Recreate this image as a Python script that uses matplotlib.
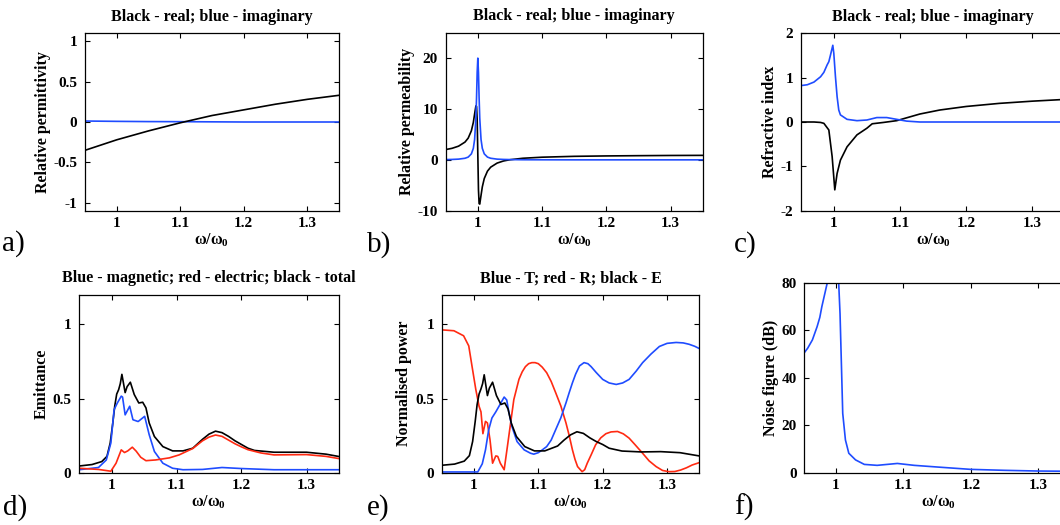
import matplotlib
matplotlib.use("Agg")
import matplotlib.pyplot as plt
from matplotlib.ticker import FormatStrFormatter

plt.rcParams['font.family'] = ['Liberation Serif', 'DejaVu Serif']
plt.rcParams['font.weight'] = 'bold'
plt.rcParams['axes.unicode_minus'] = False
plt.rcParams['mathtext.fontset'] = 'custom'
plt.rcParams['mathtext.rm'] = 'Liberation Serif:bold'
plt.rcParams['mathtext.it'] = 'Liberation Serif:bold'
plt.rcParams['mathtext.bf'] = 'Liberation Serif:bold'

BLUE = '#1f4cff'
RED = '#ff2a12'
BLACK = '#000000'

# ---------------- data ----------------
# a) relative permittivity
a_x = [0.95, 1.0, 1.05, 1.1, 1.15, 1.2, 1.25, 1.3, 1.35]
eps_re = [-0.35, -0.22, -0.11, -0.01, 0.08, 0.15, 0.22, 0.28, 0.33]
eps_im = [0.012, 0.008, 0.005, 0.004, 0.002, 0.0, 0.0, 0.0, 0.0]

# b) relative permeability
b_x = [0.95, 0.96, 0.97, 0.98, 0.985, 0.99, 0.993, 0.995, 0.997, 0.998, 0.999,
       1.0, 1.001, 1.002, 1.003, 1.005, 1.007, 1.01, 1.015, 1.02, 1.03, 1.04,
       1.05, 1.07, 1.1, 1.15, 1.2, 1.25, 1.3, 1.35]
mu_re = [2.02, 2.27, 2.69, 3.49, 4.27, 5.73, 7.36, 9.03, 10.6, 10.5, 7.9,
         1.0, -5.89, -8.6, -8.7, -6.97, -5.31, -3.68, -2.22, -1.44, -0.64, -0.22,
         0.02, 0.31, 0.52, 0.69, 0.77, 0.82, 0.86, 0.88]
mu_im = [0.05, 0.08, 0.14, 0.31, 0.54, 1.18, 2.26, 4.0, 8.2, 12.2, 17.25,
         20.0, 17.2, 12.2, 8.19, 4.0, 2.26, 1.18, 0.54, 0.31, 0.14, 0.08,
         0.05, 0.02, 0.01, 0.0, 0.0, 0.0, 0.0, 0.0]

# c) refractive index
c_x_re = [0.95, 0.97, 0.98, 0.985, 0.9925, 0.9975, 1.0015, 1.005, 1.01, 1.02, 1.035,
          1.05, 1.058, 1.075, 1.095, 1.116, 1.13, 1.16, 1.2, 1.25, 1.3, 1.35]
n_re = [0.0, 0.0, -0.01, -0.03, -0.18, -0.78, -1.53, -1.16, -0.86, -0.56, -0.29,
        -0.14, -0.04, -0.01, 0.03, 0.12, 0.18, 0.27, 0.35, 0.42, 0.47, 0.51]
c_x_im = [0.95, 0.96, 0.97, 0.98, 0.985, 0.99, 0.9925, 0.995, 0.9985, 1.0, 1.0025, 1.005,
          1.0075, 1.01, 1.02, 1.035, 1.05, 1.065, 1.08, 1.095, 1.11, 1.13, 1.35]
n_im = [0.82, 0.84, 0.9, 1.02, 1.12, 1.29, 1.36, 1.51, 1.73, 1.55, 1.02, 0.57,
        0.27, 0.16, 0.06, 0.03, 0.045, 0.1, 0.1, 0.06, 0.02, 0.0, 0.0]

# d) emittance
d_x_tot = [0.95, 0.97, 0.985, 0.993, 0.998, 1.002, 1.005, 1.008, 1.011, 1.0135, 1.016,
           1.021, 1.024, 1.029, 1.035, 1.042, 1.048, 1.053, 1.058, 1.066, 1.079,
           1.094, 1.11, 1.125, 1.14, 1.15, 1.16, 1.17, 1.18, 1.19, 1.2, 1.21, 1.22,
           1.25, 1.3, 1.33, 1.35]
d_tot = [0.045, 0.055, 0.075, 0.11, 0.2, 0.335, 0.45, 0.53, 0.56, 0.6, 0.663,
         0.54, 0.58, 0.61, 0.527, 0.47, 0.475, 0.437, 0.335, 0.244, 0.176,
         0.147, 0.147, 0.165, 0.225, 0.26, 0.28, 0.27, 0.245, 0.215, 0.19, 0.165, 0.15,
         0.138, 0.138, 0.125, 0.109]
d_x_mag = [0.95, 0.98, 0.992, 0.999, 1.004, 1.009, 1.015, 1.017, 1.021, 1.028,
           1.033, 1.041, 1.051, 1.058, 1.066, 1.079, 1.094, 1.11, 1.14, 1.17,
           1.2, 1.25, 1.35]
d_mag = [0.02, 0.035, 0.086, 0.2, 0.425, 0.47, 0.516, 0.51, 0.39, 0.448,
         0.357, 0.345, 0.38, 0.256, 0.143, 0.064, 0.03, 0.02, 0.022, 0.035,
         0.028, 0.02, 0.02]
d_x_ele = [0.95, 0.98, 0.999, 1.007, 1.015, 1.02, 1.025, 1.032, 1.038, 1.045,
           1.053, 1.068, 1.089, 1.104, 1.125, 1.14, 1.15, 1.16, 1.17, 1.18, 1.19,
           1.2, 1.21, 1.23, 1.25, 1.3, 1.33, 1.35]
d_ele = [0.03, 0.022, 0.01, 0.064, 0.154, 0.136, 0.147, 0.172, 0.145, 0.104,
         0.081, 0.086, 0.1, 0.12, 0.163, 0.215, 0.24, 0.254, 0.245, 0.22, 0.195,
         0.174, 0.155, 0.133, 0.12, 0.122, 0.11, 0.095]

# e) normalised power
e_x_R = [0.95, 0.969, 0.984, 0.992, 0.997, 1.003, 1.008, 1.011, 1.014, 1.018,
         1.021, 1.025, 1.029, 1.034, 1.037, 1.041, 1.047, 1.052, 1.057, 1.062,
         1.07, 1.075, 1.08, 1.085, 1.09, 1.095, 1.1, 1.106, 1.113, 1.12, 1.127,
         1.135, 1.143, 1.148, 1.153, 1.157, 1.161, 1.168, 1.172, 1.176, 1.182,
         1.189, 1.197, 1.205, 1.213, 1.223, 1.232, 1.241, 1.25, 1.262, 1.272,
         1.283, 1.293, 1.303, 1.312, 1.321, 1.33, 1.339, 1.35]
e_R = [0.963, 0.957, 0.923, 0.855, 0.72, 0.56, 0.448, 0.41, 0.263, 0.346,
       0.335, 0.222, 0.064, 0.113, 0.11, 0.064, 0.02, 0.176, 0.335, 0.493,
       0.63, 0.68, 0.715, 0.735, 0.742, 0.742, 0.735, 0.712, 0.674, 0.615, 0.539,
       0.45, 0.335, 0.25, 0.154, 0.09, 0.041, 0.007, 0.02, 0.064, 0.12,
       0.188, 0.235, 0.263, 0.275, 0.278, 0.262, 0.233, 0.19, 0.131, 0.08,
       0.041, 0.015, 0.007, 0.008, 0.018, 0.033, 0.052, 0.068]
e_x_T = [0.95, 1.006, 1.013, 1.018, 1.023, 1.028, 1.034, 1.039, 1.047, 1.051,
         1.054, 1.059, 1.067, 1.078, 1.088, 1.093, 1.1, 1.105, 1.113, 1.12, 1.127,
         1.135, 1.143, 1.148, 1.153, 1.158, 1.164, 1.171, 1.177, 1.182, 1.19, 1.2,
         1.21, 1.221, 1.231, 1.241, 1.252, 1.262, 1.275, 1.288, 1.3, 1.314, 1.325,
         1.334, 1.343, 1.35]
e_T = [0.005, 0.005, 0.06, 0.154, 0.29, 0.369, 0.41, 0.448, 0.51, 0.49,
       0.414, 0.312, 0.21, 0.154, 0.131, 0.125, 0.135, 0.15, 0.176, 0.22, 0.29,
       0.37, 0.471, 0.54, 0.606, 0.665, 0.72, 0.742, 0.735, 0.715, 0.675, 0.629,
       0.605, 0.595, 0.605, 0.629, 0.685, 0.742, 0.8, 0.851, 0.872, 0.878, 0.875,
       0.866, 0.852, 0.837]
e_x_E = [0.95, 0.97, 0.985, 0.993, 0.998, 1.002, 1.005, 1.008, 1.011, 1.0135,
         1.016, 1.021, 1.024, 1.029, 1.035, 1.042, 1.048, 1.053, 1.058, 1.066,
         1.079, 1.094, 1.11, 1.13, 1.14, 1.15, 1.16, 1.17, 1.18, 1.19, 1.2, 1.21,
         1.23, 1.26, 1.29, 1.32, 1.35]
e_E = [0.05, 0.058, 0.078, 0.115, 0.21, 0.345, 0.46, 0.53, 0.565, 0.6,
       0.66, 0.52, 0.57, 0.61, 0.52, 0.46, 0.47, 0.43, 0.335, 0.244,
       0.176, 0.147, 0.147, 0.18, 0.22, 0.255, 0.276, 0.265, 0.235, 0.21, 0.19, 0.165,
       0.146, 0.14, 0.142, 0.135, 0.113]

# f) noise figure
f_x = [0.953, 0.958, 0.965, 0.972, 0.976, 0.979, 0.983, 0.987, 0.992, 0.997,
       1.001, 1.004, 1.006, 1.008, 1.01, 1.014, 1.019, 1.029, 1.042, 1.061,
       1.091, 1.116, 1.15, 1.2, 1.25, 1.3, 1.35]
f_nf = [50.6, 52.5, 56.0, 61.6, 65.5, 70.0, 75.0, 80.0, 95.0, 120.0,
        110.0, 80.0, 67.0, 46.0, 25.0, 13.8, 8.2, 5.4, 3.5, 3.1,
        3.9, 3.1, 2.4, 1.4, 1.0, 0.7, 0.6]

x_ticks = [1, 1.1, 1.2, 1.3]
xlabel = 'ω/ω$_0$'

# ---------------- figure ----------------
W, H = 1060, 525
fig = plt.figure(figsize=(W / 100, H / 100), dpi=100)


def add_ax(left, right, top, bottom):
    return fig.add_axes([left / W, 1 - bottom / H, (right - left) / W, (bottom - top) / H])


def style(ax, xlim, ylim, yticks, ylabel, title=None):
    ax.set_xlim(*xlim)
    ax.set_ylim(*ylim)
    ax.set_xticks(x_ticks)
    ax.set_yticks(yticks)
    ax.xaxis.set_major_formatter(FormatStrFormatter('%g'))
    ax.yaxis.set_major_formatter(FormatStrFormatter('%g'))
    ax.tick_params(direction='in', top=True, right=True, length=3.5, width=0.8,
                   labelsize=11)
    ax.tick_params(axis='y', pad=5.5)
    ax.tick_params(axis='x', pad=4.5)
    for lab in ax.get_xticklabels() + ax.get_yticklabels():
        lab.set_fontweight('bold')
    for s in ax.spines.values():
        s.set_linewidth(0.9)
    ax.set_xlabel(xlabel, fontsize=11.5, fontweight='bold', labelpad=1)
    ax.set_ylabel(ylabel, fontsize=11.5, fontweight='bold', labelpad=2)
    if title:
        ax.set_title(title, fontsize=11.5, fontweight='bold', pad=9)


lw = 1.2

axa = add_ax(85, 339, 33, 211)
axa.plot(a_x, eps_im, color=BLUE, lw=lw)
axa.plot(a_x, eps_re, color=BLACK, lw=lw)
style(axa, (0.95, 1.35), (-1.1, 1.1), [-1, -0.5, 0, 0.5, 1], 'Relative permittivity',
      'Black - real; blue - imaginary')

axb = add_ax(445.7, 702.7, 32.7, 210.7)
axb.plot(b_x, mu_re, color=BLACK, lw=lw)
axb.plot(b_x, mu_im, color=BLUE, lw=lw)
style(axb, (0.95, 1.35), (-10, 25), [-10, 0, 10, 20], 'Relative permeability',
      'Black - real; blue - imaginary')

axc = add_ax(800.7, 1065.5, 33.3, 210.7)
axc.plot(c_x_re, n_re, color=BLACK, lw=lw)
axc.plot(c_x_im, n_im, color=BLUE, lw=lw)
style(axc, (0.95, 1.35), (-2, 2), [-2, -1, 0, 1, 2], 'Refractive index',
      'Black - real; blue - imaginary')

axd = add_ax(79, 339, 294.7, 472.7)
axd.plot(d_x_tot, d_tot, color=BLACK, lw=lw)
axd.plot(d_x_mag, d_mag, color=BLUE, lw=lw)
axd.plot(d_x_ele, d_ele, color=RED, lw=lw)
style(axd, (0.95, 1.35), (0, 1.2), [0, 0.5, 1], 'Emittance',
      'Blue - magnetic; red - electric; black - total')

axe = add_ax(441.7, 699.3, 294.7, 472.7)
axe.plot(e_x_R, e_R, color=RED, lw=lw)
axe.plot(e_x_T, e_T, color=BLUE, lw=lw)
axe.plot(e_x_E, e_E, color=BLACK, lw=lw)
style(axe, (0.95, 1.35), (0, 1.2), [0, 0.5, 1], 'Normalised power',
      'Blue - T; red - R; black - E')

axf = add_ax(804.3, 1072, 283, 472.7)
axf.plot(f_x, f_nf, color=BLUE, lw=lw)
style(axf, (0.953, 1.35), (0, 80), [0, 20, 40, 60, 80], 'Noise figure (dB)')

panel_labels = [('a)', 2, 251), ('b)', 367, 252), ('c)', 734, 252),
                ('d)', 3, 515), ('e)', 367, 515), ('f)', 734, 515)]
for txt, px, py in panel_labels:
    fig.text(px / W, 1 - py / H, txt, fontsize=21, fontweight='normal',
             family='Liberation Serif', va='baseline', ha='left')

fig.savefig('out.png', dpi=100)
